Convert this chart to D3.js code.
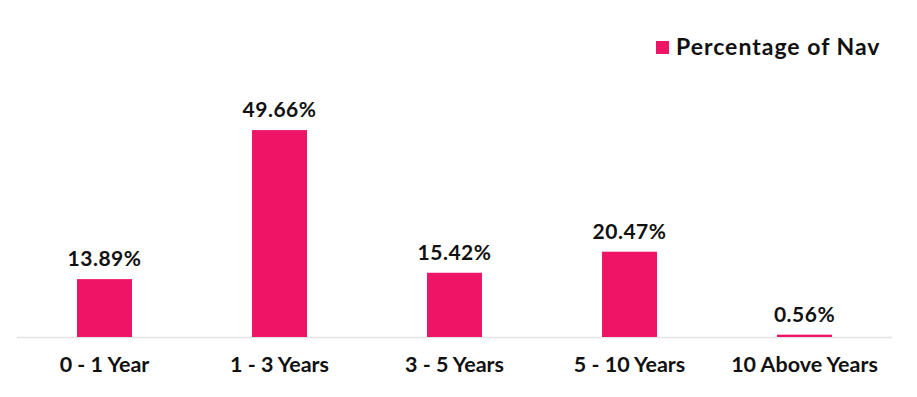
<!DOCTYPE html>
<html lang="en">
<head>
<meta charset="utf-8">
<title>Percentage of Nav</title>
<script src="https://cdn.jsdelivr.net/npm/d3@7/dist/d3.min.js"></script>
<style>
  body { margin: 0; background: #fff; }
  text { font-family: Lato, "Open Sans", sans-serif; font-weight: bold; fill: #111; }
</style>
</head>
<body>
<div id="chart"></div>
<script>
var categories = ["0 - 1 Year", "1 - 3 Years", "3 - 5 Years", "5 - 10 Years", "10 Above Years"];
var values = [13.89, 49.66, 15.42, 20.47, 0.56];
var seriesName = "Percentage of Nav";

var W = 917, H = 397;
var color = "#ef1466";

var svg = d3.select("#chart").append("svg")
    .attr("width", W)
    .attr("height", H);

var x = d3.scaleBand()
    .domain(categories)
    .range([17, 892])
    .paddingInner(0.686)
    .paddingOuter(0.343);

var y = d3.scaleLinear()
    .domain([0, 60])
    .range([337, 87]);

// baseline
svg.append("line")
    .attr("x1", 17).attr("x2", 892)
    .attr("y1", y(0) + 0.5).attr("y2", y(0) + 0.5)
    .style("stroke", "#e3e3e3")
    .style("stroke-width", 1.5);

var data = categories.map(function(c, i) { return {cat: c, v: values[i]}; });

svg.selectAll(".bar")
    .data(data)
    .enter()
    .append("rect")
    .attr("class", "bar")
    .attr("x", function(d) { return x(d.cat); })
    .attr("width", x.bandwidth())
    .attr("y", function(d) { return y(d.v); })
    .attr("height", function(d) { return y(0) - y(d.v); })
    .style("fill", color);

svg.selectAll(".val")
    .data(data)
    .enter()
    .append("text")
    .attr("class", "val")
    .attr("x", function(d) { return x(d.cat) + x.bandwidth() / 2; })
    .attr("y", function(d) { return y(d.v) - 13; })
    .style("text-anchor", "middle")
    .style("font-size", "21px")
    .style("letter-spacing", "0.5px")
    .text(function(d) { return d.v.toFixed(2) + "%"; });

var xAxis = d3.axisBottom(x).tickSize(0).tickPadding(0);
var gx = svg.append("g")
    .attr("transform", "translate(0," + y(0) + ")")
    .call(xAxis);
gx.select(".domain").remove();
gx.selectAll("text")
    .attr("dy", 0)
    .attr("y", 35)
    .style("font-size", "21.5px")
    .style("font-family", "Lato, sans-serif")
    .style("fill", "#111");

// legend
var leg = svg.append("g").attr("transform", "translate(656,41)");
leg.append("rect")
    .attr("width", 13)
    .attr("height", 13)
    .style("fill", color);
leg.append("text")
    .attr("x", 20)
    .attr("y", 14)
    .style("font-size", "23px")
    .style("letter-spacing", "1px")
    .text(seriesName);
</script>
</body>
</html>
